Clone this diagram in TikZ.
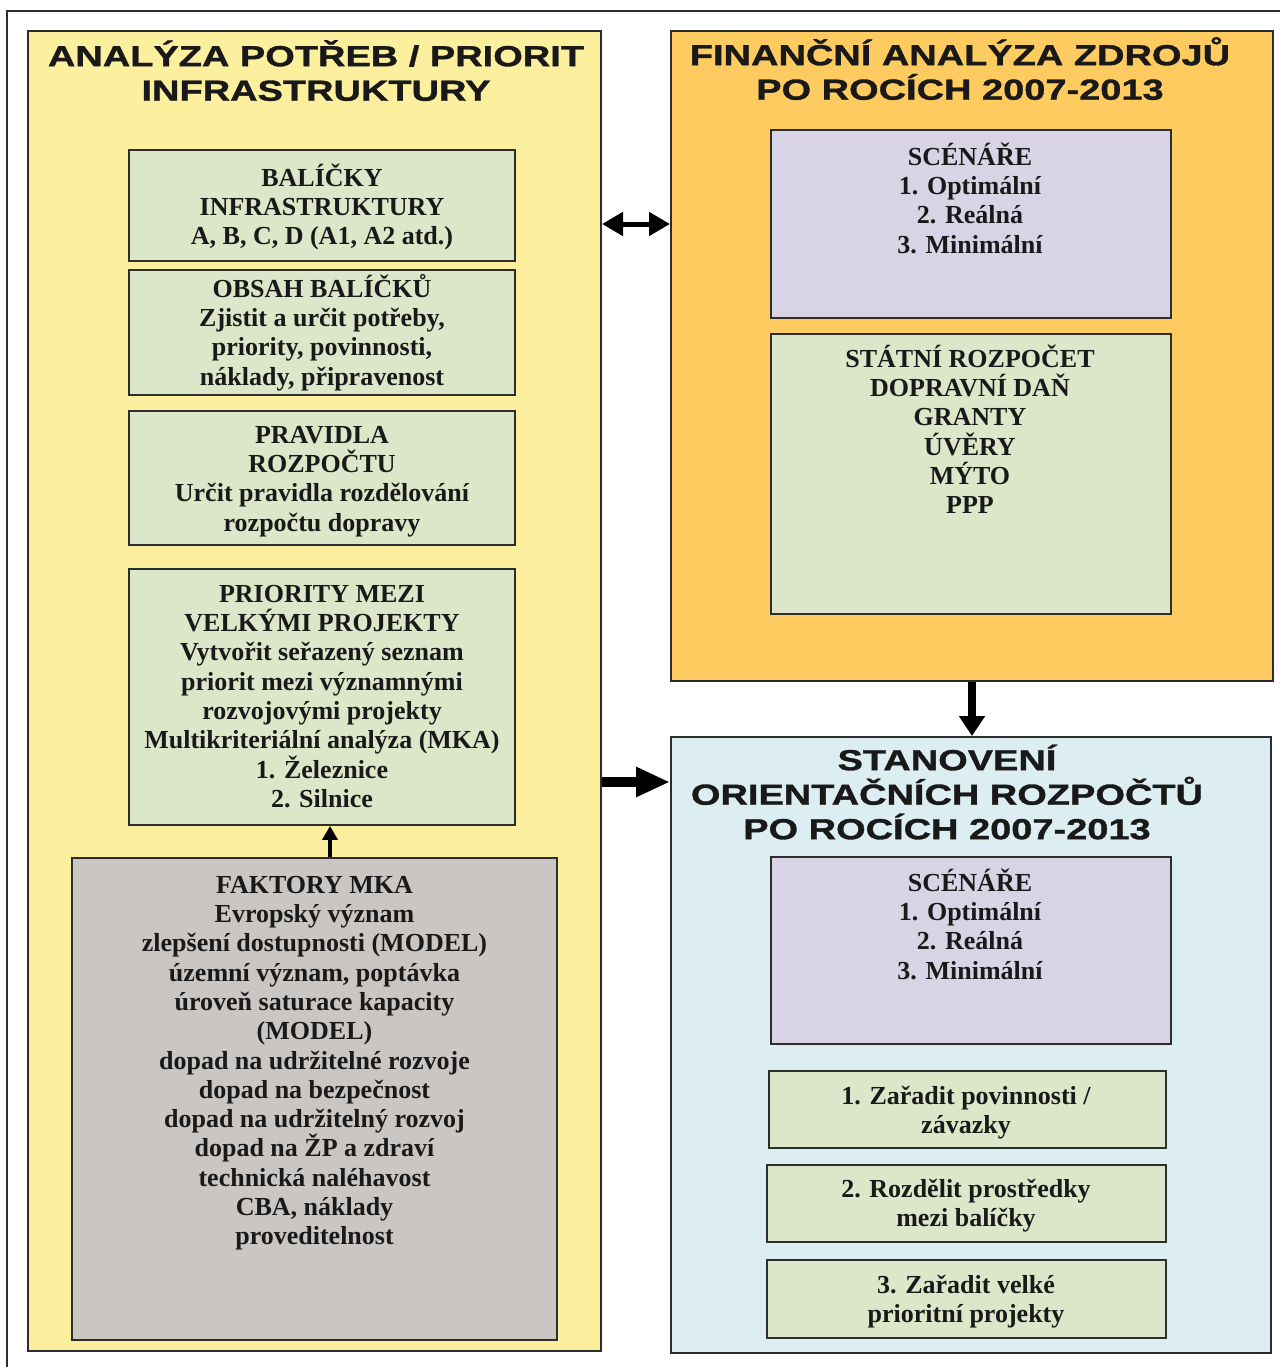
\documentclass[tikz,border=0pt]{standalone}
\usepackage{fontspec}
\setmainfont{Liberation Serif}
\newfontfamily\headfont[FakeStretch=1.31,FakeBold=1.2]{Liberation Sans}
\usetikzlibrary{arrows.meta}
\definecolor{panelyellow}{RGB}{252,240,158}
\definecolor{panelorange}{RGB}{253,203,95}
\definecolor{panelblue}{RGB}{221,238,243}
\definecolor{boxgreen}{RGB}{220,230,201}
\definecolor{boxgray}{RGB}{202,198,195}
\definecolor{boxpurple}{RGB}{216,212,230}
\definecolor{edgec}{RGB}{45,45,45}
\definecolor{textc}{RGB}{25,25,25}
\newcommand{\bodyfnt}{\fontsize{26}{29.3}\selectfont\bfseries}
\newcommand{\headfnt}{\headfont\fontsize{29}{34.5}\selectfont\bfseries}
\newcommand{\bs}{\rule{0pt}{25pt}}
\newcommand{\hs}{\rule{0pt}{29pt}}
\begin{document}
\begin{tikzpicture}[x=1pt,y=-1pt,
  panel/.style={draw=edgec, line width=2pt, inner sep=0pt},
  gbox/.style={draw=edgec, line width=1.8pt, inner sep=0pt, fill=boxgreen},
  graybox/.style={gbox, fill=boxgray},
  pbox/.style={gbox, fill=boxpurple},
  txt/.style={anchor=north, align=center, inner sep=0pt, font=\bodyfnt, text=textc},
  head/.style={anchor=north, align=center, inner sep=0pt, font=\headfnt, text=textc},
  bigarrow/.style={draw=black, line width=10pt, -{Triangle[length=34pt,width=28pt]}},
  downarrow/.style={draw=black, line width=8pt, -{Triangle[length=20pt,width=25pt]}},
  dblarrow/.style={draw=black, line width=5pt, {Triangle[length=21pt,width=23pt]}-{Triangle[length=21pt,width=23pt]}},
  uparrow/.style={draw=black, line width=4pt, -{Triangle[length=14pt,width=15pt]}}
]
\useasboundingbox (0,0) rectangle (1280,1367);
\fill[white] (0,0) rectangle (1280,1367);
% outer frame
\draw[edgec, line width=1.5pt] (7,1367) -- (7,11) -- (1280,11);

% left panel
\node[panel, fill=panelyellow, minimum width=573pt, minimum height=1320pt] (lp) at (314.5,691) {};
\node[head] (lph) at (316,37) {\hs ANALÝZA POTŘEB / PRIORIT\\INFRASTRUKTURY};

\node[gbox, minimum width=386pt, minimum height=111pt] (b1) at (322,205.5) {};
\node[txt] (b1t) at (322,161) {\bs BALÍČKY\\INFRASTRUKTURY\\A, B, C, D (A1, A2 atd.)};

\node[gbox, minimum width=386pt, minimum height=125pt] (b2) at (322,332.5) {};
\node[txt] (b2t) at (322,272) {\bs OBSAH BALÍČKŮ\\Zjistit a určit potřeby,\\priority, povinnosti,\\náklady, připravenost};

\node[gbox, minimum width=386pt, minimum height=134pt] (b3) at (322,478) {};
\node[txt] (b3t) at (322,418) {\bs PRAVIDLA\\ROZPOČTU\\Určit pravidla rozdělování\\rozpočtu dopravy};

\node[gbox, minimum width=386pt, minimum height=256pt] (b4) at (322,697) {};
\node[txt] (b4t) at (322,577) {\bs PRIORITY MEZI\\VELKÝMI PROJEKTY\\Vytvořit seřazený seznam\\priorit mezi významnými\\rozvojovými projekty\\Multikriteriální analýza (MKA)\\1. Železnice\\2. Silnice};

\node[graybox, minimum width=485pt, minimum height=482pt] (gb) at (314.5,1099) {};
\node[txt] (gbt) at (314.5,868) {\bs FAKTORY MKA\\Evropský význam\\zlepšení dostupnosti (MODEL)\\územní význam, poptávka\\úroveň saturace kapacity\\(MODEL)\\dopad na udržitelné rozvoje\\dopad na bezpečnost\\dopad na udržitelný rozvoj\\dopad na ŽP a zdraví\\technická naléhavost\\CBA, náklady\\proveditelnost};

% orange panel
\node[panel, fill=panelorange, minimum width=602pt, minimum height=650pt] (op) at (972,356) {};
\node[head] (oph) at (960,36) {\hs FINANČNÍ ANALÝZA ZDROJŮ\\PO ROCÍCH 2007-2013};

\node[pbox, minimum width=400pt, minimum height=188pt] (p1) at (971,224) {};
\node[txt] (p1t) at (970,140) {\bs SCÉNÁŘE\\1. Optimální\\2. Reálná\\3. Minimální};

\node[gbox, minimum width=400pt, minimum height=280pt] (g1) at (971,474) {};
\node[txt] (g1t) at (970,342) {\bs STÁTNÍ ROZPOČET\\DOPRAVNÍ DAŇ\\GRANTY\\ÚVĚRY\\MÝTO\\PPP};

% blue panel
\node[panel, fill=panelblue, minimum width=600pt, minimum height=616pt] (bp) at (971,1045) {};
\node[head] (bph) at (947,741) {\hs STANOVENÍ\\ORIENTAČNÍCH ROZPOČTŮ\\PO ROCÍCH 2007-2013};

\node[pbox, minimum width=400pt, minimum height=187pt] (p2) at (971,950.5) {};
\node[txt] (p2t) at (970,866) {\bs SCÉNÁŘE\\1. Optimální\\2. Reálná\\3. Minimální};

\node[gbox, minimum width=397pt, minimum height=77pt] (s1) at (967.5,1109.5) {};
\node[txt] (s1t) at (966,1079) {\bs 1. Zařadit povinnosti /\\závazky};

\node[gbox, minimum width=399pt, minimum height=77pt] (s2) at (966.5,1203.5) {};
\node[txt] (s2t) at (966,1172) {\bs 2. Rozdělit prostředky\\mezi balíčky};

\node[gbox, minimum width=399pt, minimum height=78pt] (s3) at (966.5,1299) {};
\node[txt] (s3t) at (966,1268) {\bs 3. Zařadit velké\\prioritní projekty};

% connectors
\coordinate (ra) at (0,782);
\coordinate (ua) at (330,0);
\draw[dblarrow] (lp.east |- p1.center) -- (op.west |- p1.center);
\draw[bigarrow] (lp.east |- ra) -- (bp.west |- ra);
\draw[downarrow] (op.south) -- (op.south |- bp.north);
\draw[uparrow] (gb.north -| ua) -- (b4.south -| ua);
\end{tikzpicture}
\end{document}
